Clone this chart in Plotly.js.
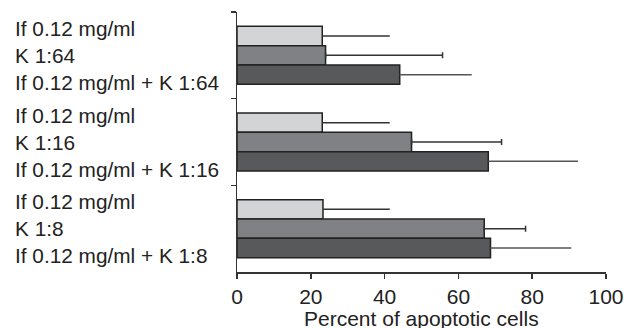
<!DOCTYPE html>
<html><head><meta charset="utf-8">
<script src="https://cdn.plot.ly/plotly-3.0.1.min.js"></script>
<style>html,body{margin:0;padding:0;background:#fff;}#chart{width:624px;height:328px;}</style>
</head><body><div id="chart"></div>
<script>
// categories, top to bottom
const groups = ["K 1:64", "K 1:16", "K 1:8"];
const seriesNames = ["If 0.12 mg/ml", "K", "If 0.12 mg/ml + K"];
const labelLines = [
  ["If 0.12 mg/ml", "K 1:64", "If 0.12 mg/ml + K 1:64"],
  ["If 0.12 mg/ml", "K 1:16", "If 0.12 mg/ml + K 1:16"],
  ["If 0.12 mg/ml", "K 1:8", "If 0.12 mg/ml + K 1:8"]
];
const xTitle = "Percent of apoptotic cells";
const ifValues = [23.1, 23.1, 23.3];
const ifErr = [18.3, 18.3, 18.1];
const kValues = [24.0, 47.3, 67.0];
const kErr = [31.7, 24.4, 11.2];
const comboValues = [44.1, 68.1, 68.7];
const comboErr = [19.5, 24.3, 21.9];
const xTicks = [0, 20, 40, 60, 80, 100];

const font = "Liberation Sans, Arial, Helvetica, sans-serif";
function tr(name, vals, errs, color, errColor, capW) {
  return {
    type: "bar", orientation: "h", name: name,
    y: groups, x: vals,
    marker: {color: color, line: {color: "#222", width: 1.5}},
    error_x: {type: "data", array: errs, symmetric: false, arrayminus: errs.map(() => 0),
              color: errColor, thickness: 1.5, width: capW},
    hoverinfo: "none"
  };
}
const data = [
  tr(seriesNames[0], ifValues, ifErr, "#d3d4d6", "#333", 0),
  tr(seriesNames[1], kValues, kErr, "#808184", "#333", 3),
  tr(seriesNames[2], comboValues, comboErr, "#58595b", "#555", 0)
];
const annotations = groups.map((g, i) => ({
  xref: "paper", yref: "y", x: -0.607, y: g,
  xanchor: "left", yanchor: "middle", align: "left",
  text: labelLines[i].join("<br>"), showarrow: false,
  font: {family: font, size: 20.8, color: "#222"}
}));
annotations.push({
  xref: "paper", yref: "paper", x: 0.5, y: -0.178,
  xanchor: "center", yanchor: "middle",
  text: xTitle, showarrow: false,
  font: {family: font, size: 21, color: "#222"}
});
const layout = {
  width: 624, height: 328,
  margin: {l: 236.5, r: 17.5, t: 12, b: 56},
  paper_bgcolor: "#fff", plot_bgcolor: "#fff",
  barmode: "group", bargap: 0.33, bargroupgap: 0,
  showlegend: false,
  font: {family: font, size: 21, color: "#222"},
  xaxis: {
    range: [0, 100], tickvals: xTicks, ticktext: xTicks.map(String),
    showgrid: false, zeroline: false, showline: true, linecolor: "#333", linewidth: 1.5,
    ticks: "outside", ticklen: 5, tickcolor: "#333", tickwidth: 1.5,
    tickfont: {family: font, size: 21, color: "#222"},
    automargin: false, fixedrange: true
  },
  yaxis: {
    type: "category", categoryorder: "array", categoryarray: groups,
    autorange: "reversed",
    showgrid: false, zeroline: false, showline: true, linecolor: "#333", linewidth: 1.5,
    ticks: "outside", tickson: "boundaries", ticklen: 5, tickcolor: "#333", tickwidth: 1.5,
    showticklabels: false, automargin: false, fixedrange: true
  },
  annotations: annotations
};
Plotly.newPlot("chart", data, layout, {displayModeBar: false, staticPlot: true});
</script></body></html>
